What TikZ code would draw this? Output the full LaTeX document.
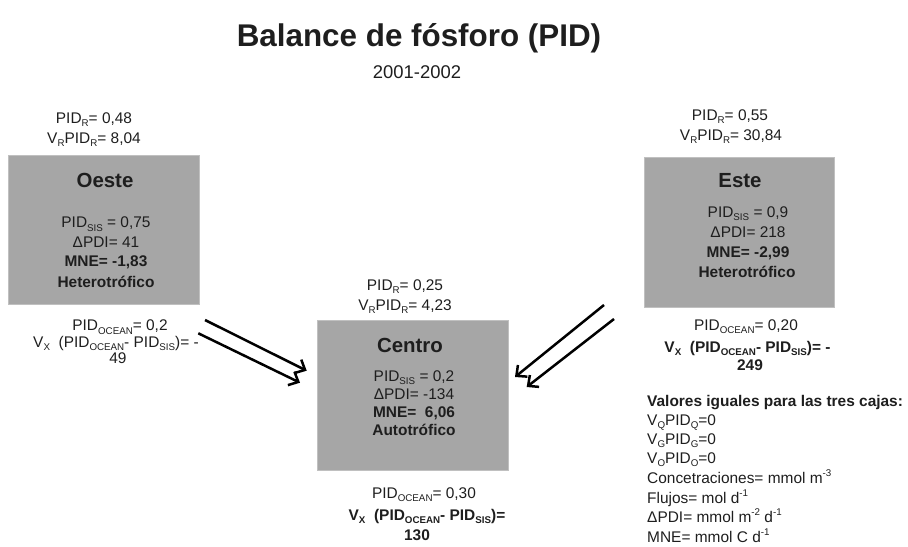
\documentclass[tikz,border=0pt]{standalone}
\usepackage{fontspec}
\setmainfont{Liberation Sans}
\usetikzlibrary{arrows.meta}
\definecolor{boxgray}{RGB}{166,166,166}
\definecolor{boxedge}{RGB}{192,192,192}
\definecolor{txt}{RGB}{30,30,30}
\newcommand\bodyfont{\fontsize{15.5}{20}\selectfont}
\newcommand\sbx[1]{\raisebox{-0.2em}{\fontsize{9.8}{10}\selectfont #1}}
\newcommand\spx[1]{\raisebox{0.42em}{\fontsize{9.8}{10}\selectfont #1}}
\begin{document}
\begin{tikzpicture}[x=1bp,y=-1bp,
  lbl/.style={anchor=base,inner sep=0pt,text=txt,font=\bodyfont},
  blbl/.style={lbl,font=\bodyfont\bfseries},
  leg/.style={lbl,anchor=base west},
  boxtitle/.style={anchor=base,inner sep=0pt,text=txt,font=\fontsize{20.5}{24}\selectfont\bfseries},
  region/.style={draw=boxedge,line width=0.8bp,fill=boxgray,inner sep=0pt,anchor=north west},
  flow/.style={line width=2.5bp,-{Straight Barb[length=8bp,width=15bp]}}]
\useasboundingbox (0,0) rectangle (908,547);

% title
\node[anchor=base,inner sep=0pt,text=txt,font=\fontsize{31.5}{36}\selectfont\bfseries] (title) at (419,46.3) {Balance de fósforo (PID)};
\node[anchor=base,inner sep=0pt,text=txt,font=\fontsize{18.5}{22}\selectfont] (year) at (417,78.6) {2001-2002};

% boxes
\node[region,minimum width=191bp,minimum height=149bp] (oeste) at (8,155) {};
\node[region,minimum width=191bp,minimum height=150bp] (centro) at (317,320) {};
\node[region,minimum width=190bp,minimum height=150bp] (este) at (644,157) {};

% Oeste
\node[lbl] (o1) at (94,123.5) {PID\sbx{R}= 0,48};
\node[lbl] (o2) at (94,143.5) {V\sbx{R}PID\sbx{R}= 8,04};
\node[boxtitle] (ot) at (105,187.3) {Oeste};
\node[lbl] (o3) at (106,228) {PID\sbx{SIS} = 0,75};
\node[lbl] (o4) at (106,247.5) {ΔPDI= 41};
\node[blbl] (o5) at (106,267) {MNE= -1,83};
\node[blbl] (o6) at (106,287.5) {Heterotrófico};
\node[lbl] (o7) at (120,331) {PID\sbx{OCEAN}= 0,2};
\node[lbl] (o8) at (116,347.5) {V\sbx{X}\ \ (PID\sbx{OCEAN}- PID\sbx{SIS})= -};
\node[lbl] (o9) at (118,363.5) {49};

% Centro
\node[lbl] (c1) at (405,290.5) {PID\sbx{R}= 0,25};
\node[lbl] (c2) at (405,310.5) {V\sbx{R}PID\sbx{R}= 4,23};
\node[boxtitle] (ct) at (410,352.3) {Centro};
\node[lbl] (c3) at (414,381.5) {PID\sbx{SIS} = 0,2};
\node[lbl] (c4) at (414,399.5) {ΔPDI= -134};
\node[blbl] (c5) at (414,417.5) {MNE=\ \ 6,06};
\node[blbl] (c6) at (414,435.5) {Autotrófico};
\node[lbl] (c7) at (424,498.5) {PID\sbx{OCEAN}= 0,30};
\node[blbl] (c8) at (427,520.5) {V\sbx{X}\ \ (PID\sbx{OCEAN}- PID\sbx{SIS})=};
\node[blbl] (c9) at (417,540.5) {130};

% Este
\node[lbl] (e1) at (730,120.5) {PID\sbx{R}= 0,55};
\node[lbl] (e2) at (731,140.5) {V\sbx{R}PID\sbx{R}= 30,84};
\node[boxtitle] (et) at (740,187.3) {Este};
\node[lbl] (e3) at (748,217.5) {PID\sbx{SIS} = 0,9};
\node[lbl] (e4) at (748,237.5) {ΔPDI= 218};
\node[blbl] (e5) at (748,257.5) {MNE= -2,99};
\node[blbl] (e6) at (747,277.5) {Heterotrófico};
\node[lbl] (e7) at (746,330.5) {PID\sbx{OCEAN}= 0,20};
\node[blbl] (e8) at (747.5,352.5) {V\sbx{X}\ \ (PID\sbx{OCEAN}- PID\sbx{SIS})= -};
\node[blbl] (e9) at (750,370.5) {249};

% legend
\node[leg,font=\bodyfont\bfseries] (l1) at (647,406.2) {Valores iguales para las tres cajas:};
\node[leg] (l2) at (647,425) {V\sbx{Q}PID\sbx{Q}=0};
\node[leg] (l3) at (647,444) {V\sbx{G}PID\sbx{G}=0};
\node[leg] (l4) at (647,463.4) {V\sbx{O}PID\sbx{O}=0};
\node[leg] (l5) at (647,483) {Concetraciones= mmol m\spx{-3}};
\node[leg] (l6) at (647,503) {Flujos= mol d\spx{-1}};
\node[leg] (l7) at (647,522.4) {ΔPDI= mmol m\spx{-2} d\spx{-1}};
\node[leg] (l8) at (647,542.4) {MNE= mmol C d\spx{-1}};

% arrows
\coordinate (wa1) at (205,320);
\coordinate (wb1) at (306.7,370.7);
\coordinate (wa2) at (198.3,333.3);
\coordinate (wb2) at (300,382.7);
\coordinate (ea1) at (604,305);
\coordinate (eb1) at (515,377);
\coordinate (ea2) at (614,319);
\coordinate (eb2) at (526.7,387);
\draw[flow] (wa1) -- (wb1);
\draw[flow] (wa2) -- (wb2);
\draw[flow] (ea1) -- (eb1);
\draw[flow] (ea2) -- (eb2);
\end{tikzpicture}
\end{document}
